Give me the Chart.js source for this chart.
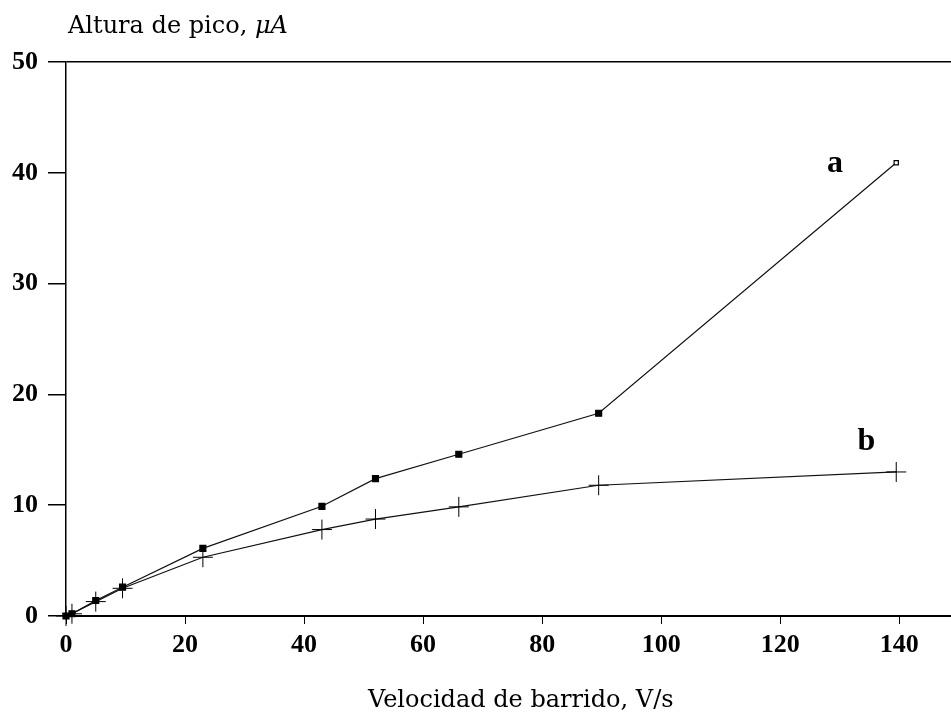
<!DOCTYPE html>
<html>
<head>
<meta charset="utf-8">
<script src="https://cdn.jsdelivr.net/npm/chart.js@4/dist/chart.umd.min.js"></script>
<style>
  body { margin: 0; background: #fff; }
  #wrap { width: 951px; height: 715px; }
</style>
</head>
<body>
<div id="wrap"><canvas id="myChart" width="951" height="715"></canvas></div>
<script>
// scan rate, V/s
var xValues = [0, 1, 5, 9.5, 23, 43, 52, 66, 89.5, 139.5];
// peak height, uA
var aValues = [0, 0.2, 1.4, 2.6, 6.1, 9.9, 12.4, 14.6, 18.3, 40.9];
var bValues = [0, 0.2, 1.3, 2.5, 5.3, 7.8, 8.75, 9.85, 11.8, 13.0];
var xTicks = [0, 20, 40, 60, 80, 100, 120, 140];
var yTicks = [0, 10, 20, 30, 40, 50];

var curveLabels = [
  { text: "a", x: 129.2, y: 40.1 },
  { text: "b", x: 134.5, y: 15.0 }
];

function toPoints(xs, ys) {
  return xs.map(function (x, i) { return { x: x, y: ys[i] }; });
}

var textPlugin = {
  id: "textPlugin",
  afterDraw: function (chart) {
    var ctx = chart.ctx;
    var xs = chart.scales.x, ys = chart.scales.y;
    ctx.save();
    ctx.fillStyle = "#000";
    ctx.textBaseline = "alphabetic";

    // y-axis title, horizontal above the axis
    ctx.textAlign = "left";
    ctx.font = "24px 'DejaVu Serif'";
    var part1 = "Altura de pico, ";
    var left = chart.chartArea.left + 2;
    ctx.fillText(part1, left, 33);
    var w = ctx.measureText(part1).width;
    ctx.font = "italic 24px 'DejaVu Serif'";
    ctx.fillText("\u03BCA", left + w, 33);

    // x-axis title
    ctx.font = "24px 'DejaVu Serif'";
    ctx.fillText("Velocidad de barrido, V/s", 368, 707);

    // curve labels
    ctx.textAlign = "center";
    ctx.font = "bold 32px 'Liberation Serif'";
    curveLabels.forEach(function (l) {
      ctx.fillText(l.text, xs.getPixelForValue(l.x), ys.getPixelForValue(l.y));
    });
    ctx.restore();
  }
};

new Chart("myChart", {
  type: "line",
  data: {
    datasets: [{
      label: "a",
      data: toPoints(xValues, aValues),
      borderColor: "#111",
      borderWidth: 1.2,
      pointStyle: "rect",
      pointRadius: function (c) { return c.dataIndex === aValues.length - 1 ? 3 : 4.2; },
      pointBackgroundColor: function (c) { return c.dataIndex === aValues.length - 1 ? "#fff" : "#000"; },
      pointBorderColor: "#000",
      pointBorderWidth: 1.2,
      tension: 0,
      clip: false
    }, {
      label: "b",
      data: toPoints(xValues, bValues),
      borderColor: "#111",
      borderWidth: 1.2,
      pointStyle: "cross",
      pointRadius: 10,
      pointBorderColor: "#000",
      pointBorderWidth: 1,
      tension: 0,
      clip: false
    }]
  },
  options: {
    responsive: false,
    animation: false,
    devicePixelRatio: 1,
    layout: { autoPadding: false, padding: { top: 62, right: 0, left: 0, bottom: 0 } },
    plugins: {
      legend: { display: false },
      tooltip: { enabled: false }
    },
    scales: {
      x: {
        type: "linear",
        min: 0,
        max: 148.7,
        afterFit: function (s) { s.height = 99; s.paddingRight = 0; s.paddingLeft = 0; },
        afterBuildTicks: function (s) { s.ticks = xTicks.map(function (v) { return { value: v }; }); },
        ticks: {
          padding: 6,
          color: "#000",
          font: { family: "'Liberation Serif'", size: 26, weight: "bold" }
        },
        grid: { drawOnChartArea: false, drawTicks: true, tickLength: 8, tickColor: "#000", tickWidth: 1 },
        border: { display: true, color: "#000", width: 2 }
      },
      y: {
        type: "linear",
        min: 0,
        max: 50,
        afterFit: function (s) { s.width = 66; s.paddingTop = 0; s.paddingBottom = 0; },
        afterBuildTicks: function (s) { s.ticks = yTicks.map(function (v) { return { value: v }; }); },
        ticks: {
          padding: 10,
          color: "#000",
          font: { family: "'Liberation Serif'", size: 26, weight: "bold" }
        },
        grid: {
          drawOnChartArea: true,
          drawTicks: true,
          tickLength: 18,
          tickColor: "#000",
          tickWidth: 1.5,
          lineWidth: 1.5,
          color: function (c) { return c.tick && c.tick.value === 50 ? "#000" : "rgba(0,0,0,0)"; }
        },
        border: { display: true, color: "#000", width: 1.5 }
      }
    }
  },
  plugins: [textPlugin]
});
</script>
</body>
</html>
